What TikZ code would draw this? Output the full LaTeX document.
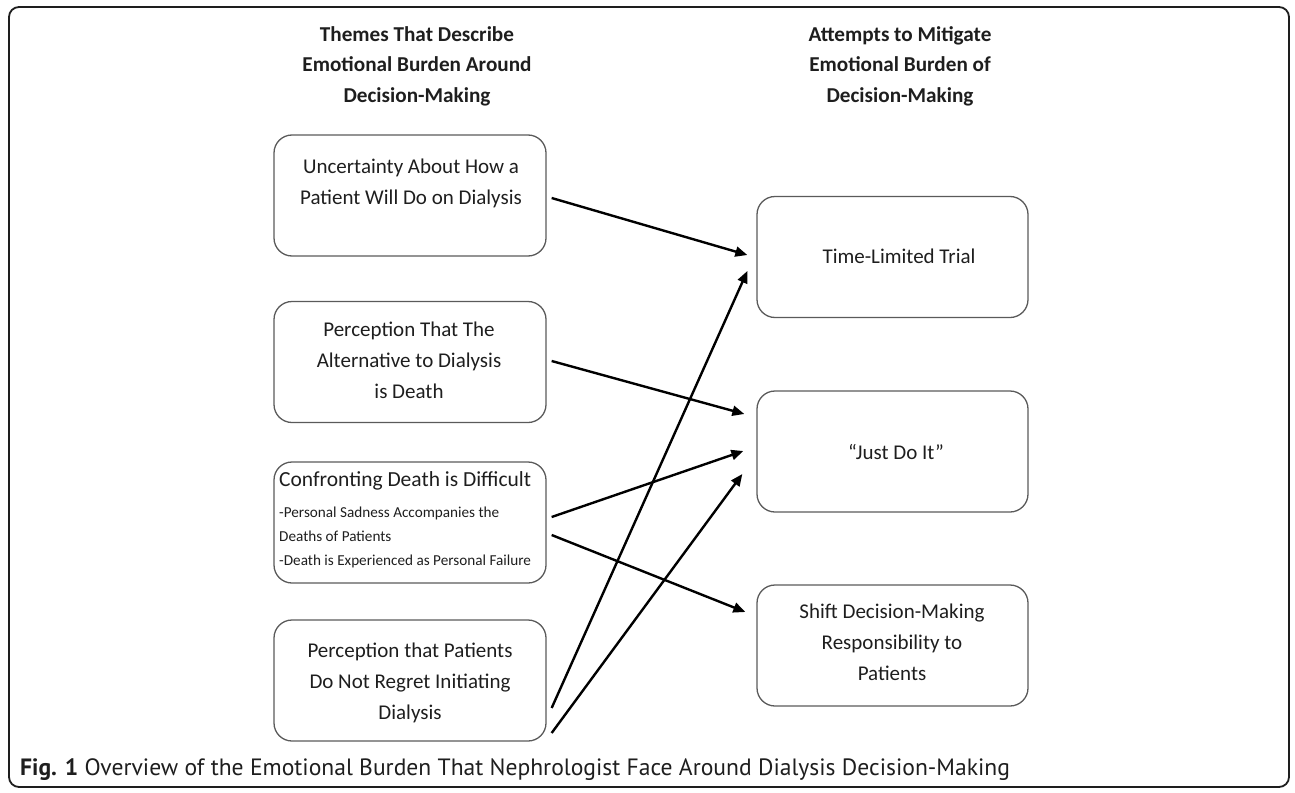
\documentclass[tikz,border=0pt]{standalone}
\usepackage{fontspec}
\setmainfont{Carlito}
\newfontfamily\capfont{PT Sans}
\usetikzlibrary{arrows.meta}
\definecolor{boxline}{HTML}{5A5A5A}
\definecolor{ink}{HTML}{1E1E1E}
\tikzset{
  box/.style={draw=boxline, line width=1.3pt, rounded corners=18pt, minimum width=272pt, minimum height=121pt, inner sep=0pt},
  hdr/.style={align=center, anchor=base, inner sep=0pt, text=ink, font=\fontsize{21.2}{30.5}\selectfont\bfseries},
  txt/.style={align=center, anchor=base, inner sep=0pt, text=ink, font=\fontsize{21}{31}\selectfont},
  arr/.style={line width=2.4pt, draw=black, -{Triangle[length=12pt,width=10pt]}}
}
\begin{document}
\begin{tikzpicture}[x=1pt,y=-1pt]
\useasboundingbox (0,0) rectangle (1295,792);
\draw[line width=1.8pt, draw=ink, rounded corners=10pt] (9,7) rectangle (1289,787);
% headers (base anchor = last line baseline)
\node[hdr] (hL) at (417,102) {Themes That Describe\\Emotional Burden Around\\Decision-Making};
\node[hdr] (hR) at (900,102) {Attempts to Mitigate\\Emotional Burden of\\Decision-Making};
% left boxes
\node[box] (L1) at (410,195.5) {};
\node[box] (L2) at (410,362) {};
\node[box] (L3) at (410,522.5) {};
\node[box] (L4) at (410,680.5) {};
% right boxes
\node[box, minimum width=271pt] (R1) at (892.5,257) {};
\node[box, minimum width=271pt] (R2) at (892.5,451.5) {};
\node[box, minimum width=271pt] (R3) at (892.5,645.5) {};
% texts
\node[txt] (t1) at (411,204) {Uncertainty About How a\\Patient Will Do on Dialysis};
\node[txt] (t2) at (409,398) {Perception That The\\Alternative to Dialysis\\is Death};
\node[txt, anchor=base west, font=\fontsize{21.5}{31}\selectfont] (t3) at (279,486) {Confronting Death is Difficult};
\node[txt, anchor=base west, align=left, font=\fontsize{15.2}{24}\selectfont] (t3b) at (279,565) {-Personal Sadness Accompanies the\\Deaths of Patients\\-Death is Experienced as Personal Failure};
\node[txt] (t4) at (410,719) {Perception that Patients\\Do Not Regret Initiating\\Dialysis};
\node[txt] (r1) at (899,263) {Time-Limited Trial};
\node[txt] (r2) at (896,459) {“Just Do It”};
\node[txt] (r3) at (892,680) {Shift Decision-Making\\Responsibility to\\Patients};
% arrows
\draw[arr] ([shift={(5,2.5)}]L1.east) -- ([shift={(-9,-2)}]R1.west);
\draw[arr] ([shift={(5,-1)}]L2.east) -- ([shift={(-12,-37.5)}]R2.west);
\draw[arr] ([shift={(5,-5.5)}]L3.east) -- ([shift={(-13,-0.5)}]R2.west);
\draw[arr] ([shift={(5,12.5)}]L3.east) -- ([shift={(-11,-33.5)}]R3.west);
\draw[arr] ([shift={(5,27.5)}]L4.east) -- ([shift={(-9,14)}]R1.west);
\draw[arr] ([shift={(5,52.5)}]L4.east) -- ([shift={(-14,22.5)}]R2.west);
% caption
\node[anchor=base west, inner sep=0pt, text=ink, font=\capfont\fontsize{23.6}{26}\selectfont] (cap) at (20,775) {\textbf{Fig. 1} Overview of the Emotional Burden That Nephrologist Face Around Dialysis Decision-Making};
\end{tikzpicture}
\end{document}
